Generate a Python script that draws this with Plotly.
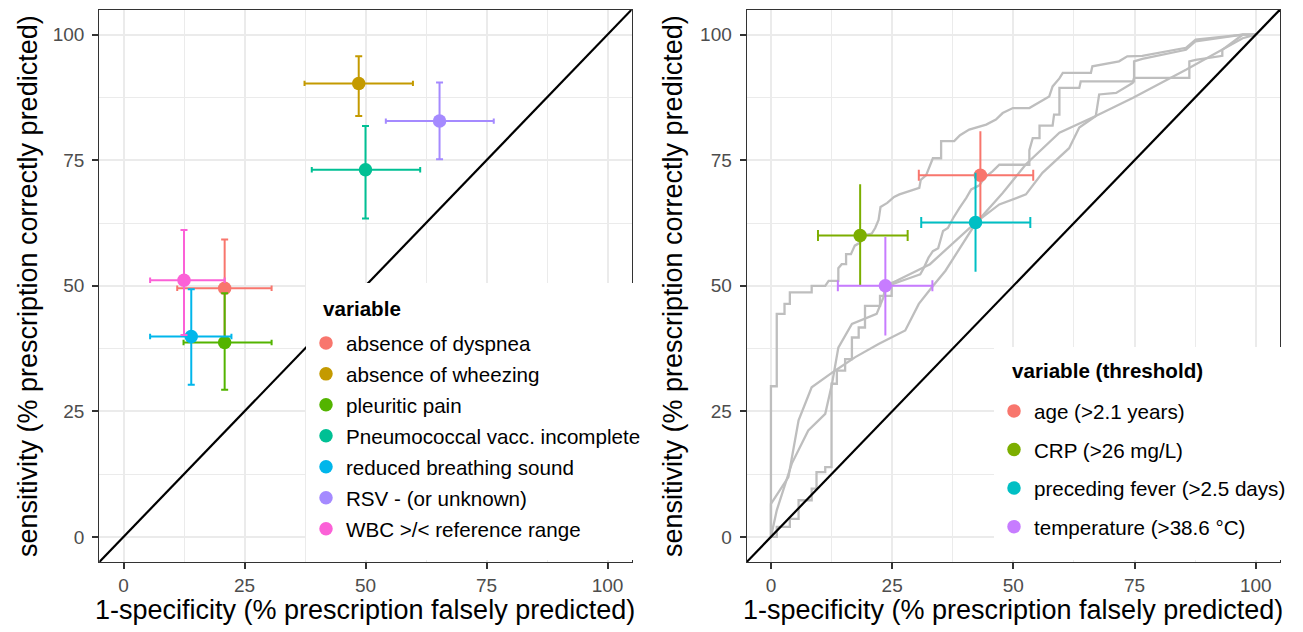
import plotly.graph_objects as go

W, H = 1303, 632
FONT = "Liberation Sans, Arial, sans-serif"

# ---------------- Left panel data ----------------
left_vars = ["absence of dyspnea", "absence of wheezing", "pleuritic pain",
             "Pneumococcal vacc. incomplete", "reduced breathing sound",
             "RSV - (or unknown)", "WBC >/< reference range"]
left_colors = ["#F8766D", "#C49A00", "#53B400", "#00C094", "#00B6EB", "#A58AFF", "#FB61D7"]
left_x = [20.9, 48.6, 20.9, 50.0, 14.0, 65.3, 12.5]
left_x_lo = [11.1, 37.4, 12.4, 38.9, 5.5, 54.2, 5.5]
left_x_hi = [30.6, 59.8, 30.6, 61.3, 22.3, 76.5, 20.9]
left_y = [49.5, 90.3, 38.7, 73.1, 39.9, 82.8, 51.1]
left_y_lo = [39.5, 83.8, 29.3, 63.4, 30.3, 75.2, 40.2]
left_y_hi = [59.2, 95.7, 48.5, 81.8, 49.3, 90.5, 61.1]

# ---------------- Right panel data ----------------
right_vars = ["age (>2.1 years)", "CRP (>26 mg/L)", "preceding fever (>2.5 days)",
              "temperature (>38.6 °C)"]
right_colors = ["#F8766D", "#7CAE00", "#00BFC4", "#C77CFF"]
right_x = [43.2, 18.4, 42.2, 23.6]
right_x_lo = [30.5, 9.7, 31.0, 13.8]
right_x_hi = [54.1, 28.2, 53.5, 33.3]
right_y = [72.0, 60.0, 62.6, 50.0]
right_y_lo = [62.7, 50.1, 52.8, 40.1]
right_y_hi = [80.8, 70.2, 72.5, 59.7]

# ROC curves (1-specificity, sensitivity) in %
roc_crp_x = [0, 0, 1.2, 1.2, 2.8, 2.8, 3.9, 3.9, 8.4, 8.4, 11.2, 11.9, 13.9, 13.9, 14.6, 15.5,
             15.5, 16.5, 17.3, 18.4, 19.0, 20.8, 21.5, 22.2, 22.6, 24.0, 25.4, 26.5, 30.6, 30.9,
             32.0, 33.4, 35.1, 35.1, 37.8, 39.0, 40.9, 44.4, 46.4, 47.8, 49.9, 53.3, 57.4, 58.1,
             59.5, 60.2, 66.0, 66.3, 71.8, 73.5, 76.6, 85.6, 87.6, 97.3, 100]
roc_crp_y = [0, 30, 30, 44.4, 44.4, 46.4, 46.4, 48.7, 48.7, 50, 50, 51, 51, 53.5, 54.3, 54.3,
             56.3, 56.3, 58, 58.6, 60, 60.4, 61.5, 63.1, 65.7, 66.5, 67.7, 68.2, 69.5, 71.1,
             72, 75.4, 75.4, 78.8, 78.8, 80, 81.1, 82.1, 83.1, 84.4, 85.4, 85.4, 87.7, 89.7,
             91.3, 92.4, 92.4, 93.7, 94.7, 95.7, 95.8, 97.4, 99, 100, 100]

roc_age_x = [0, 1.2, 1.2, 3.9, 3.9, 5.7, 5.7, 8.4, 8.4, 9.4, 9.4, 11.2, 11.2, 12.5, 12.5, 13.6,
             13.6, 15.3, 15.3, 16.7, 16.7, 18.1, 18.1, 19.4, 19.4, 22.5, 22.5, 24.9, 24.9, 27.3,
             28.5, 30.8, 31.5, 32.5, 33.4, 34.5, 35.5, 36.5, 37.6, 38.9, 40.3, 41.3, 43.0, 44.0,
             45.7, 47.1, 53.3, 53.3, 54.0, 55.4, 55.4, 58.1, 58.4, 59.5, 59.5, 63.6, 63.9, 74.9,
             74.9, 76.6, 85.6, 87.6, 97.3, 100]
roc_age_y = [0, 0, 2, 2, 3.6, 3.6, 7.3, 7.3, 9.6, 9.6, 12.9, 12.9, 13.9, 13.9, 30.5, 30.5,
             33.1, 33.1, 35.4, 35.4, 39.7, 39.7, 41.7, 41.7, 46, 46, 48, 48, 50.3, 51,
             51.5, 52.3, 53.5, 55.6, 56.9, 57.5, 60.9, 61.5, 63.5, 65.5, 67.5, 69.2, 70, 71.5,
             72.8, 74.1, 74.1, 77, 79.4, 79.4, 81.9, 81.9, 84.1, 84.1, 89.4, 89.4, 90.7, 90.7,
             94.7, 95.2, 97, 98.7, 100, 100]

roc_fever_x = [0, 0, 3.6, 5.7, 8.4, 13.2, 17.4, 22.2, 27.7, 30.5, 33.2, 36.0, 42.2, 47.8, 52.6,
               59.5, 67.0, 74.6, 85.6, 97.3, 100]
roc_fever_y = [0, 6.6, 11.9, 23.2, 29.8, 33.1, 35.8, 38.4, 41.1, 46.4, 49.7, 53.0, 62.4, 68.5,
               74.2, 80.5, 83.8, 87.4, 93.0, 99.3, 100]

roc_temp_x = [0, 1.2, 4.3, 7.7, 11.2, 12.6, 13.9, 16.7, 21.8, 23.2, 23.6, 25.9, 32.8, 42.2,
              47.1, 52.6, 56.0, 61.5, 63.6, 67.0, 67.7, 71.2, 74.6, 74.9, 86.3, 86.3, 87.6,
              93.1, 93.1, 97.3, 100]
roc_temp_y = [0, 5.3, 14.6, 21.2, 24.5, 30.5, 37.7, 42.4, 44.4, 47.7, 50, 51, 54.3, 62.6,
              66.2, 68.2, 72.5, 77.4, 81.5, 83.8, 88.1, 88.4, 90.4, 91.4, 91.4, 94.7, 95,
              95.8, 97, 100, 100]

roc_curves = [(roc_crp_x, roc_crp_y), (roc_age_x, roc_age_y),
              (roc_fever_x, roc_fever_y), (roc_temp_x, roc_temp_y)]

diag = [-5, 105]
ticks = [0, 25, 50, 75, 100]

fig = go.Figure()

# ---- left panel ----
fig.add_trace(go.Scatter(x=diag, y=diag, mode="lines", line=dict(color="black", width=2.2),
                         showlegend=False, hoverinfo="skip", xaxis="x", yaxis="y"))
for i, name in enumerate(left_vars):
    c = left_colors[i]
    fig.add_trace(go.Scatter(
        x=[left_x[i]], y=[left_y[i]], mode="markers", name=name,
        marker=dict(color=c, size=13.5),
        error_x=dict(type="data", symmetric=False,
                     array=[left_x_hi[i] - left_x[i]], arrayminus=[left_x[i] - left_x_lo[i]],
                     color=c, thickness=2, width=2.7),
        error_y=dict(type="data", symmetric=False,
                     array=[left_y_hi[i] - left_y[i]], arrayminus=[left_y[i] - left_y_lo[i]],
                     color=c, thickness=2, width=3.5),
        legend="legend", legendgroup="l%d" % i, xaxis="x", yaxis="y"))

# ---- right panel ----
for rx, ry in roc_curves:
    fig.add_trace(go.Scatter(x=rx, y=ry, mode="lines", line=dict(color="#BEBEBE", width=2.3),
                             showlegend=False, hoverinfo="skip", xaxis="x2", yaxis="y2"))
fig.add_trace(go.Scatter(x=diag, y=diag, mode="lines", line=dict(color="black", width=2.2),
                         showlegend=False, hoverinfo="skip", xaxis="x2", yaxis="y2"))
for i, name in enumerate(right_vars):
    c = right_colors[i]
    fig.add_trace(go.Scatter(
        x=[right_x[i]], y=[right_y[i]], mode="markers", name=name,
        marker=dict(color=c, size=13.5),
        error_x=dict(type="data", symmetric=False,
                     array=[right_x_hi[i] - right_x[i]], arrayminus=[right_x[i] - right_x_lo[i]],
                     color=c, thickness=2, width=5.5),
        error_y=dict(type="data", symmetric=False,
                     array=[right_y_hi[i] - right_y[i]], arrayminus=[right_y[i] - right_y_lo[i]],
                     color=c, thickness=2, width=0),
        legend="legend2", legendgroup="g%d" % i, xaxis="x2", yaxis="y2"))

ydom = [1 - 562 / H, 1 - 9.6 / H]
axis_common = dict(
    range=[-5, 105], tickvals=ticks, ticktext=[str(t) for t in ticks],
    showgrid=True, gridcolor="#EBEBEB", gridwidth=2,
    minor=dict(dtick=12.5, showgrid=True, gridcolor="#EBEBEB", gridwidth=1.1),
    zeroline=False, showline=True, mirror=True, linecolor="#333333", linewidth=1.2,
    ticks="outside", ticklen=6, tickwidth=1.5, tickcolor="#333333",
    tickfont=dict(family=FONT, size=19, color="#4D4D4D"),
    fixedrange=True,
)

TITLE_SIZE = 27

fig.update_layout(
    width=W, height=H, margin=dict(l=0, r=0, t=0, b=0),
    paper_bgcolor="white", plot_bgcolor="white",
    font=dict(family=FONT, color="black"),
    xaxis=dict(domain=[99.3 / W, 631.7 / W], anchor="y", **axis_common),
    yaxis=dict(domain=ydom, anchor="x", ticklabelstandoff=4, **axis_common),
    xaxis2=dict(domain=[746.7 / W, 1280 / W], anchor="y2", **axis_common),
    yaxis2=dict(domain=ydom, anchor="x2", ticklabelstandoff=4, **axis_common),
    legend=dict(x=306 / W, y=1 - 323 / H, xanchor="left", yanchor="top",
                bgcolor="rgba(0,0,0,0)", borderwidth=0,
                font=dict(family=FONT, size=20.6, color="black"), tracegroupgap=1.2),
    legend2=dict(x=994 / W, y=1 - 391 / H, xanchor="left", yanchor="top",
                 bgcolor="rgba(0,0,0,0)", borderwidth=0,
                 font=dict(family=FONT, size=20.6, color="black"), tracegroupgap=8.8),
    shapes=[
        dict(type="rect", xref="paper", yref="paper", layer="above",
             x0=306 / W, x1=641 / W, y0=1 - 560 / H, y1=1 - 283 / H,
             fillcolor="white", line=dict(width=0)),
        dict(type="rect", xref="paper", yref="paper", layer="above",
             x0=994 / W, x1=1296 / W, y0=1 - 560 / H, y1=1 - 347 / H,
             fillcolor="white", line=dict(width=0)),
    ],
    annotations=[
        dict(text="1-specificity (% prescription falsely predicted)", xref="paper", yref="paper",
             x=365.5 / W, y=1 - 610 / H, xanchor="center", yanchor="middle", showarrow=False,
             font=dict(family=FONT, size=TITLE_SIZE, color="black")),
        dict(text="1-specificity (% prescription falsely predicted)", xref="paper", yref="paper",
             x=1013.3 / W, y=1 - 610 / H, xanchor="center", yanchor="middle", showarrow=False,
             font=dict(family=FONT, size=TITLE_SIZE, color="black")),
        dict(text="sensitivity (% prescription correctly predicted)", xref="paper", yref="paper",
             x=28 / W, y=1 - 286 / H, xanchor="center", yanchor="middle", showarrow=False,
             textangle=-90, font=dict(family=FONT, size=TITLE_SIZE, color="black")),
        dict(text="sensitivity (% prescription correctly predicted)", xref="paper", yref="paper",
             x=673 / W, y=1 - 286 / H, xanchor="center", yanchor="middle", showarrow=False,
             textangle=-90, font=dict(family=FONT, size=TITLE_SIZE, color="black")),
        dict(text="<b>variable</b>", xref="paper", yref="paper",
             x=321 / W, y=1 - 309 / H, xanchor="left", yanchor="middle", showarrow=False,
             font=dict(family=FONT, size=20.6, color="black")),
        dict(text="<b>variable (threshold)</b>", xref="paper", yref="paper",
             x=1009.6 / W, y=1 - 370.7 / H, xanchor="left", yanchor="middle", showarrow=False,
             font=dict(family=FONT, size=20.6, color="black")),
    ],
)

fig.write_html("out.html", config={"displayModeBar": False},
               post_script="document.body.style.margin='0';document.body.style.overflow='hidden';")
